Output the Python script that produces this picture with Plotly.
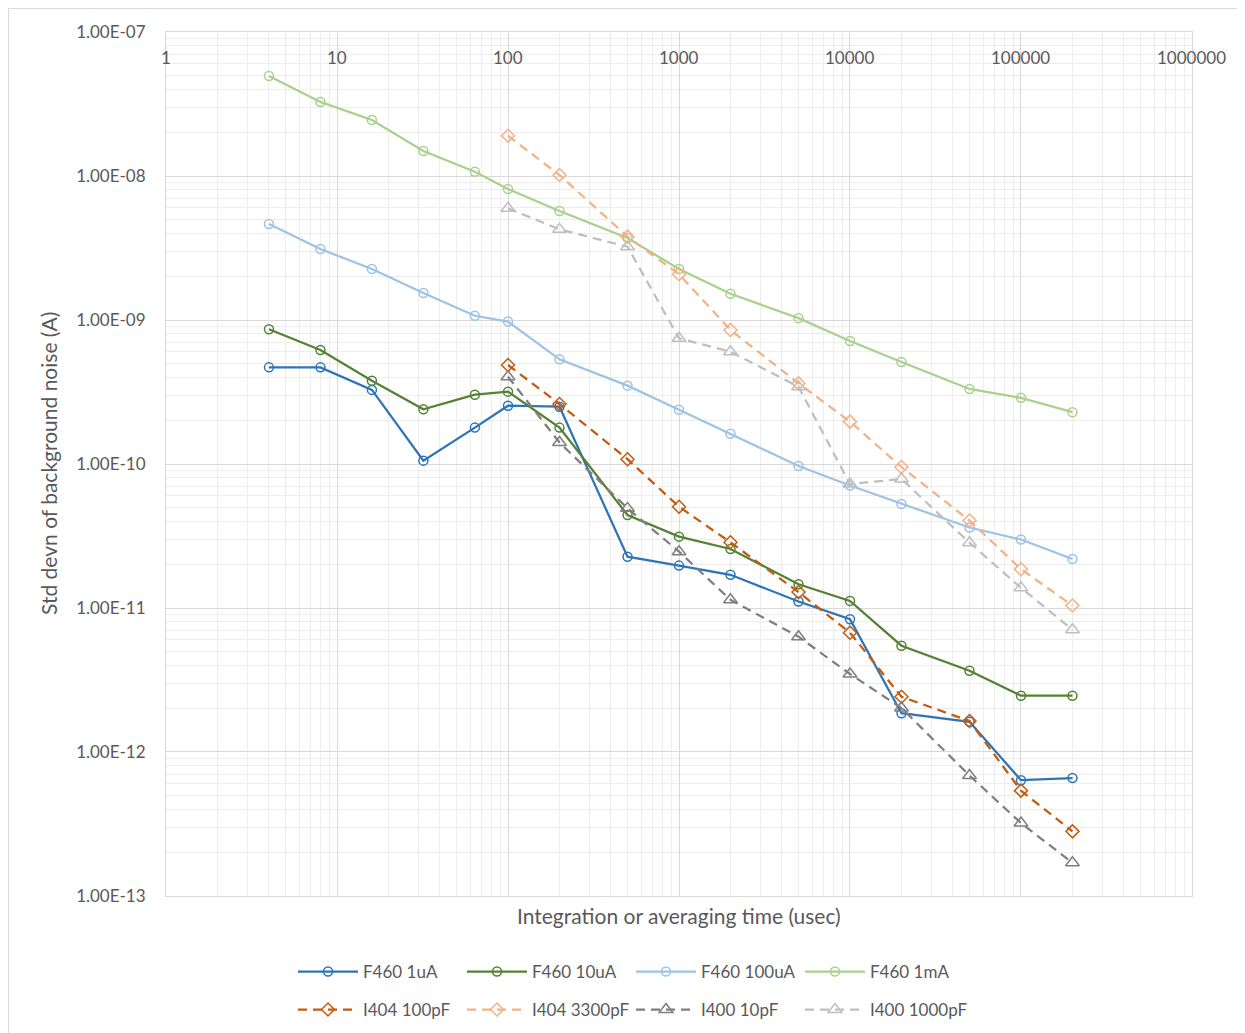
import math
import plotly.graph_objects as go

# ---- data ----
x_f460 = [4, 8, 16, 32, 64, 100, 200, 500, 1000, 2000, 5000, 10000, 20000, 50000, 100000, 200000]
x_i40x = [100, 200, 500, 1000, 2000, 5000, 10000, 20000, 50000, 100000, 200000]

f460_1uA = [4.69e-10, 4.69e-10, 3.27e-10, 1.055e-10, 1.79e-10, 2.54e-10, 2.50e-10, 2.27e-11, 1.97e-11,
            1.70e-11, 1.11e-11, 8.35e-12, 1.86e-12, 1.62e-12, 6.37e-13, 6.59e-13]
f460_10uA = [8.62e-10, 6.19e-10, 3.79e-10, 2.40e-10, 3.03e-10, 3.18e-10, 1.79e-10, 4.42e-11, 3.13e-11,
             2.57e-11, 1.46e-11, 1.12e-11, 5.47e-12, 3.67e-12, 2.46e-12, 2.46e-12]
f460_100uA = [4.64e-9, 3.11e-9, 2.26e-9, 1.54e-9, 1.07e-9, 9.76e-10, 5.33e-10, 3.50e-10, 2.38e-10,
              1.62e-10, 9.69e-11, 7.09e-11, 5.28e-11, 3.62e-11, 2.99e-11, 2.19e-11]
f460_1mA = [4.95e-8, 3.27e-8, 2.45e-8, 1.49e-8, 1.07e-8, 8.12e-9, 5.71e-9, 3.71e-9, 2.26e-9,
            1.52e-9, 1.03e-9, 7.15e-10, 5.11e-10, 3.32e-10, 2.88e-10, 2.29e-10]
i404_100pF = [4.87e-10, 2.61e-10, 1.08e-10, 5.05e-11, 2.86e-11, 1.29e-11, 6.74e-12, 2.42e-12, 1.64e-12,
              5.39e-13, 2.81e-13]
i404_3300pF = [1.905e-8, 1.016e-8, 3.79e-9, 2.08e-9, 8.53e-10, 3.63e-10, 1.97e-10, 9.53e-11, 4.05e-11,
               1.86e-11, 1.04e-11]
i400_10pF = [4.04e-10, 1.41e-10, 4.92e-11, 2.46e-11, 1.14e-11, 6.32e-12, 3.48e-12, 2.02e-12, 6.86e-13,
             3.21e-13, 1.70e-13]
i400_1000pF = [5.97e-9, 4.26e-9, 3.23e-9, 7.46e-10, 6.02e-10, 3.44e-10, 7.26e-11, 7.87e-11, 2.84e-11,
               1.38e-11, 7.06e-12]

x_tickvals = [1, 10, 100, 1000, 10000, 100000, 1000000]
x_ticktext = ["1", "10", "100", "1000", "10000", "100000", "1000000"]
y_tickvals = [1e-7, 1e-8, 1e-9, 1e-10, 1e-11, 1e-12, 1e-13]
y_ticktext = ["1.00E-07", "1.00E-08", "1.00E-09", "1.00E-10", "1.00E-11", "1.00E-12", "1.00E-13"]

FONT = "Lato"
TXT = "#595959"

series = [
    ("F460 1uA", x_f460, f460_1uA, "#2E75B6", "solid", "circle-open", "legend"),
    ("F460 10uA", x_f460, f460_10uA, "#548235", "solid", "circle-open", "legend"),
    ("F460 100uA", x_f460, f460_100uA, "#9DC3E6", "solid", "circle-open", "legend"),
    ("F460 1mA", x_f460, f460_1mA, "#A9D18E", "solid", "circle-open", "legend"),
    ("I404 100pF", x_i40x, i404_100pF, "#C55A11", "9px,6px", "diamond-open", "legend2"),
    ("I404 3300pF", x_i40x, i404_3300pF, "#F4B183", "9px,6px", "diamond-open", "legend2"),
    ("I400 10pF", x_i40x, i400_10pF, "#7F7F7F", "9px,6px", "triangle-up-open", "legend2"),
    ("I400 1000pF", x_i40x, i400_1000pF, "#BFBFBF", "9px,6px", "triangle-up-open", "legend2"),
]

fig = go.Figure()
for name, xs, ys, col, dash, sym, leg in series:
    size = 9 if "circle" in sym else (10 if "diamond" in sym else 12)
    fig.add_trace(go.Scatter(
        x=xs, y=ys, name=name, mode="lines+markers",
        line=dict(color=col, width=2.25, dash=dash),
        marker=dict(symbol=sym, size=size, color=col, line=dict(color=col, width=1.5)),
        legend=leg,
    ))

# page is offset by the 8px body margin; work in page pixels and convert
OFF = 8
W, H = 1245, 1033
L, R, T, B = 166 - OFF, 1192 - OFF, 32 - OFF, 896 - OFF
pw, ph = R - L, B - T


def px(page_x):
    return (page_x - OFF - L) / pw


def py(page_y):
    return (B - (page_y - OFF)) / ph


annotations = [
    dict(text="Integration or averaging time (usec)", xref="paper", yref="paper",
         x=px(679), y=py(915), xanchor="center", yanchor="middle", showarrow=False,
         font=dict(family=FONT, size=21, color=TXT)),
    dict(text="Std devn of background noise (A)", xref="paper", yref="paper",
         x=px(48), y=0.5, xanchor="center", yanchor="middle", showarrow=False,
         textangle=-90, font=dict(family=FONT, size=21, color=TXT)),
]
for v, t in zip(x_tickvals, x_ticktext):
    annotations.append(dict(text=t, xref="x", yref="paper", x=math.log10(v), y=py(57),
                            xanchor="center", yanchor="middle", showarrow=False,
                            font=dict(family=FONT, size=17, color=TXT)))

leg_common = dict(orientation="h", xanchor="left", yanchor="middle",
                  itemwidth=60, entrywidth=94, entrywidthmode="pixels",
                  font=dict(family=FONT, size=17, color=TXT), bgcolor="rgba(0,0,0,0)")

fig.update_layout(
    width=W, height=H,
    margin=dict(l=L, r=W - R, t=T, b=H - B, pad=0, autoexpand=False),
    paper_bgcolor="white", plot_bgcolor="white",
    font=dict(family=FONT, size=17, color=TXT),
    showlegend=True,
    legend=dict(x=px(293), y=py(972), **leg_common),
    legend2=dict(x=px(293), y=py(1010), **leg_common),
    xaxis=dict(
        type="log", range=[-0.0001, 6.0001],
        tickmode="array", tickvals=x_tickvals, ticktext=x_ticktext,
        showticklabels=False, ticks="",
        showgrid=True, gridcolor="#D9D9D9", gridwidth=1,
        minor=dict(dtick="D1", showgrid=True, gridcolor="#EDEDED", gridwidth=1, ticks=""),
        showline=True, linecolor="#D9D9D9", linewidth=1, mirror=True,
        zeroline=False,
    ),
    yaxis=dict(
        type="log", range=[-13.0001, -6.9999],
        tickmode="array", tickvals=y_tickvals, ticktext=y_ticktext,
        ticks="", ticklabelstandoff=16,
        tickfont=dict(family=FONT, size=17, color=TXT),
        showgrid=True, gridcolor="#D9D9D9", gridwidth=1,
        minor=dict(dtick="D1", showgrid=True, gridcolor="#EDEDED", gridwidth=1, ticks=""),
        showline=True, linecolor="#D9D9D9", linewidth=1, mirror=True,
        zeroline=False,
    ),
    annotations=annotations,
    shapes=[
        dict(type="rect", xref="paper", yref="paper", x0=px(8.5), x1=px(1300), y0=py(1100), y1=py(8.5),
             line=dict(color="#D9D9D9", width=1), fillcolor="rgba(0,0,0,0)", layer="below"),
    ],
)

fig.write_html("out.html")
